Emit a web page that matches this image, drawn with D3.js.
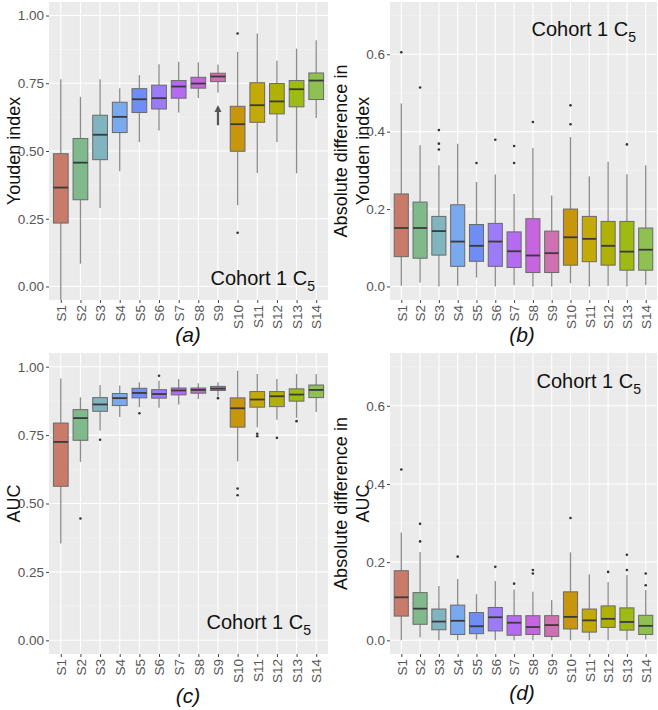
<!DOCTYPE html>
<html><head><meta charset="utf-8">
<script src="https://cdn.jsdelivr.net/npm/d3@7"></script>
<style>
html,body{margin:0;padding:0;background:#fff;}
text{font-family:"Liberation Sans",Arial,Helvetica,sans-serif;}
</style></head>
<body>
<svg id="chart" width="658" height="710"></svg>
<script>
const categories = ["S1","S2","S3","S4","S5","S6","S7","S8","S9","S10","S11","S12","S13","S14"];
const boxColors = ["#c97b6a","#80b98b","#80b4bf","#7ba9ee","#6e8ef6","#9c7bf8","#b46bf1","#c764df","#ce70b1","#c8960c","#c4aa08","#afb104","#9dbb12","#8ec152"];

// (a) Youden index
const youdenLow  = [-0.06,0.084,0.290,0.425,0.533,0.576,0.642,0.696,0.716,0.300,0.419,0.533,0.418,0.622];
const youdenQ1   = [0.234,0.320,0.468,0.568,0.642,0.655,0.695,0.732,0.756,0.499,0.606,0.637,0.663,0.690];
const youdenMed  = [0.365,0.457,0.560,0.626,0.691,0.695,0.738,0.749,0.775,0.599,0.669,0.683,0.728,0.760];
const youdenQ3   = [0.490,0.546,0.632,0.680,0.730,0.743,0.760,0.772,0.787,0.665,0.752,0.749,0.760,0.788];
const youdenHigh = [0.765,0.700,0.765,0.732,0.780,0.820,0.829,0.828,0.819,0.866,0.934,0.833,0.878,0.909];
const youdenOut  = [[],[],[],[],[],[],[],[],[],[0.934,0.198],[],[],[],[]];
const youdenArrow = {category:"S9", from:0.595, to:0.670};

// (b) Absolute difference in Youden index
const diffYLow  = [0.002,0.010,0.000,0.002,0.023,0.000,0.004,0.000,0.000,0.008,0.000,0.002,0.000,0.004];
const diffYQ1   = [0.077,0.073,0.081,0.052,0.065,0.052,0.049,0.036,0.036,0.055,0.064,0.055,0.042,0.042];
const diffYMed  = [0.151,0.151,0.143,0.116,0.105,0.116,0.091,0.080,0.086,0.127,0.123,0.105,0.090,0.095];
const diffYQ3   = [0.239,0.218,0.181,0.211,0.160,0.163,0.141,0.175,0.143,0.200,0.181,0.168,0.168,0.151];
const diffYHigh = [0.473,0.365,0.313,0.369,0.270,0.289,0.239,0.358,0.235,0.386,0.285,0.322,0.290,0.313];
const diffYOut  = [[0.605],[0.514],[0.404,0.369,0.354],[],[0.319],[0.379],[0.363,0.319],[0.425],[],[0.468,0.419],[],[],[0.367],[]];

// (c) AUC
const aucLow  = [0.354,0.652,0.767,0.816,0.852,0.850,0.862,0.882,0.892,0.654,0.779,0.806,0.813,0.834];
const aucQ1   = [0.563,0.731,0.837,0.858,0.886,0.885,0.897,0.903,0.913,0.779,0.852,0.854,0.874,0.887];
const aucMed  = [0.725,0.812,0.862,0.885,0.904,0.900,0.913,0.915,0.920,0.848,0.880,0.892,0.898,0.915];
const aucQ3   = [0.794,0.843,0.887,0.902,0.921,0.916,0.922,0.922,0.928,0.886,0.909,0.909,0.919,0.933];
const aucHigh = [0.957,0.888,0.933,0.931,0.943,0.949,0.955,0.939,0.943,0.985,0.973,0.955,0.973,0.973];
const aucOut  = [[],[0.445],[0.733],[],[0.830],[0.967],[],[],[0.885],[0.555,0.530],[0.755,0.746],[0.740],[0.801],[]];

// (d) Absolute difference in AUC
const diffALow  = [0.000,0.007,0.000,0.000,0.002,0.000,0.000,0.000,0.000,0.000,0.000,0.000,0.000,0.002];
const diffAQ1   = [0.062,0.041,0.027,0.015,0.017,0.024,0.013,0.015,0.010,0.029,0.021,0.033,0.026,0.015];
const diffAMed  = [0.110,0.081,0.048,0.050,0.036,0.059,0.045,0.034,0.039,0.060,0.051,0.055,0.047,0.037];
const diffAQ3   = [0.178,0.122,0.080,0.090,0.071,0.084,0.063,0.063,0.063,0.124,0.080,0.088,0.083,0.064];
const diffAHigh = [0.276,0.226,0.139,0.157,0.118,0.152,0.130,0.124,0.103,0.225,0.169,0.149,0.167,0.129];
const diffAOut  = [[0.437],[0.298,0.253],[],[0.214],[],[0.188],[0.145],[0.180,0.171],[],[0.313],[],[0.175],[0.219,0.180],[0.171,0.141]];

const ticksUnit = [0, 0.25, 0.5, 0.75, 1.0];
const ticksDiff = [0, 0.2, 0.4, 0.6];
const cohortLabel = "Cohort 1 C";
const cohortSub = "5";

const svg = d3.select("#chart");

function panel(cfg) {
  const {left, right, top, bottom, domain, ticks, fmt, low, q1, med, q3, high, out, titleLines, titleX, tag, tagX, tagY, cohortX, cohortY, id} = cfg;
  const x = d3.scalePoint().domain(categories).range([left, right]).padding(0.6);
  const y = d3.scaleLinear().domain(domain).range([bottom, top]);
  const step = x.step();
  const bw = step * 0.75;
  const g = svg.append("g");
  g.append("clipPath").attr("id", "clip" + id).append("rect")
    .attr("x", left).attr("y", top).attr("width", right - left).attr("height", bottom - top);
  g.append("rect").attr("x", left).attr("y", top).attr("width", right - left).attr("height", bottom - top).attr("fill", "#ebebeb");
  // minor grid
  const minor = [];
  for (let i = 0; i < ticks.length - 1; i++) minor.push((ticks[i] + ticks[i+1]) / 2);
  const stepT = ticks[1] - ticks[0];
  if (ticks[ticks.length-1] + stepT/2 < domain[1]) minor.push(ticks[ticks.length-1] + stepT/2);
  g.selectAll(".ming").data(minor).join("line")
    .attr("x1", left).attr("x2", right).attr("y1", d => y(d)).attr("y2", d => y(d))
    .attr("stroke", "#f5f5f5").attr("stroke-width", 0.6);
  g.selectAll(".majg").data(ticks).join("line")
    .attr("x1", left).attr("x2", right).attr("y1", d => y(d)).attr("y2", d => y(d))
    .attr("stroke", "#ffffff").attr("stroke-width", 1.1);
  g.selectAll(".xg").data(categories).join("line")
    .attr("x1", d => x(d)).attr("x2", d => x(d)).attr("y1", top).attr("y2", bottom)
    .attr("stroke", "#ffffff").attr("stroke-width", 1.1);

  // y axis
  const ya = d3.axisLeft(y).tickValues(ticks).tickFormat(d3.format(fmt)).tickSize(3).tickPadding(2);
  const yg = g.append("g").attr("transform", `translate(${left},0)`).call(ya);
  yg.select(".domain").remove();
  yg.selectAll(".tick line").attr("stroke", "#444");
  yg.selectAll(".tick text").attr("fill", "#555").style("font-size", "13.5px");
  // x axis
  const xa = d3.axisBottom(x).tickSize(3).tickPadding(2);
  const xg = g.append("g").attr("transform", `translate(0,${bottom})`).call(xa);
  xg.select(".domain").remove();
  xg.selectAll(".tick line").attr("stroke", "#444");
  xg.selectAll(".tick text").attr("fill", "#555").style("font-size", "13.5px")
    .attr("transform", "rotate(-90)").attr("text-anchor", "end")
    .attr("x", -5).attr("y", 0).attr("dy", "0.35em");

  const data = categories.map((c, i) => ({c, i, low: low[i], q1: q1[i], med: med[i], q3: q3[i], high: high[i], out: out[i], col: boxColors[i]}));
  const pg = g.append("g").attr("clip-path", `url(#clip${id})`);
  // whiskers
  pg.selectAll(".wu").data(data).join("line")
    .attr("x1", d => x(d.c)).attr("x2", d => x(d.c)).attr("y1", d => y(d.q3)).attr("y2", d => y(d.high))
    .attr("stroke", "#8c8c8c").attr("stroke-width", 1.3);
  pg.selectAll(".wl").data(data).join("line")
    .attr("x1", d => x(d.c)).attr("x2", d => x(d.c)).attr("y1", d => y(d.q1)).attr("y2", d => y(d.low))
    .attr("stroke", "#8c8c8c").attr("stroke-width", 1.3);
  // boxes
  pg.selectAll(".bx").data(data).join("rect")
    .attr("x", d => x(d.c) - bw/2).attr("width", bw)
    .attr("y", d => y(d.q3)).attr("height", d => y(d.q1) - y(d.q3))
    .attr("fill", d => d.col).attr("stroke", "#6a6a6a").attr("stroke-width", 1);
  pg.selectAll(".md").data(data).join("line")
    .attr("x1", d => x(d.c) - bw/2).attr("x2", d => x(d.c) + bw/2)
    .attr("y1", d => y(d.med)).attr("y2", d => y(d.med))
    .attr("stroke", "#3a3a3a").attr("stroke-width", 1.8);
  // outliers
  const outs = data.flatMap(d => d.out.map(v => ({c: d.c, v})));
  pg.selectAll(".ot").data(outs).join("circle")
    .attr("cx", d => x(d.c)).attr("cy", d => y(d.v)).attr("r", 1.3).attr("fill", "#333");

  // y title
  const yc = (top + bottom) / 2;
  titleLines.forEach((t, k) => {
    g.append("text").attr("transform", `translate(${titleX + k * 22},${yc}) rotate(-90)`)
      .attr("text-anchor", "middle").style("font-size", "18px").attr("fill", "#111").text(t);
  });
  // cohort label
  const ct = g.append("text").attr("x", cohortX).attr("y", cohortY).attr("text-anchor", "end")
    .style("font-size", "20px").attr("fill", "#111");
  ct.append("tspan").text(cohortLabel);
  ct.append("tspan").attr("dy", 6).style("font-size", "14px").text(cohortSub);
  // panel tag
  g.append("text").attr("x", tagX).attr("y", tagY).attr("text-anchor", "middle")
    .style("font-size", "21px").style("font-style", "italic").attr("fill", "#111").text(tag);
  return {x, y, g};
}

const pa = panel({id:"a", left:49, right:328, top:2, bottom:300, domain:[-0.05,1.05], ticks:ticksUnit, fmt:".2f",
  low:youdenLow, q1:youdenQ1, med:youdenMed, q3:youdenQ3, high:youdenHigh, out:youdenOut,
  titleLines:["Youden index"], titleX:20, tag:"(a)", tagX:188, tagY:342, cohortX:315, cohortY:285});
// arrow in (a)
{
  const ax = pa.x(youdenArrow.category);
  const y0 = pa.y(youdenArrow.from), y1 = pa.y(youdenArrow.to);
  pa.g.append("line").attr("x1", ax).attr("x2", ax).attr("y1", y0).attr("y2", y1 + 6)
    .attr("stroke", "#555").attr("stroke-width", 2.2);
  pa.g.append("path").attr("d", `M${ax},${y1} L${ax-3.5},${y1+7} L${ax+3.5},${y1+7} Z`).attr("fill", "#555");
}
panel({id:"b", left:390, right:657, top:2, bottom:300, domain:[-0.035,0.735], ticks:ticksDiff, fmt:".1f",
  low:diffYLow, q1:diffYQ1, med:diffYMed, q3:diffYQ3, high:diffYHigh, out:diffYOut,
  titleLines:["Absolute difference  in","Youden index"], titleX:347, tag:"(b)", tagX:522, tagY:342, cohortX:636, cohortY:36});
panel({id:"c", left:49, right:328, top:353, bottom:654, domain:[-0.05,1.05], ticks:ticksUnit, fmt:".2f",
  low:aucLow, q1:aucQ1, med:aucMed, q3:aucQ3, high:aucHigh, out:aucOut,
  titleLines:["AUC"], titleX:20, tag:"(c)", tagX:188, tagY:703, cohortX:311, cohortY:629});
panel({id:"d", left:390, right:657, top:353, bottom:654, domain:[-0.035,0.735], ticks:ticksDiff, fmt:".1f",
  low:diffALow, q1:diffAQ1, med:diffAMed, q3:diffAQ3, high:diffAHigh, out:diffAOut,
  titleLines:["Absolute difference  in","AUC"], titleX:347, tag:"(d)", tagX:522, tagY:700, cohortX:641, cohortY:388});
</script>
</body></html>
